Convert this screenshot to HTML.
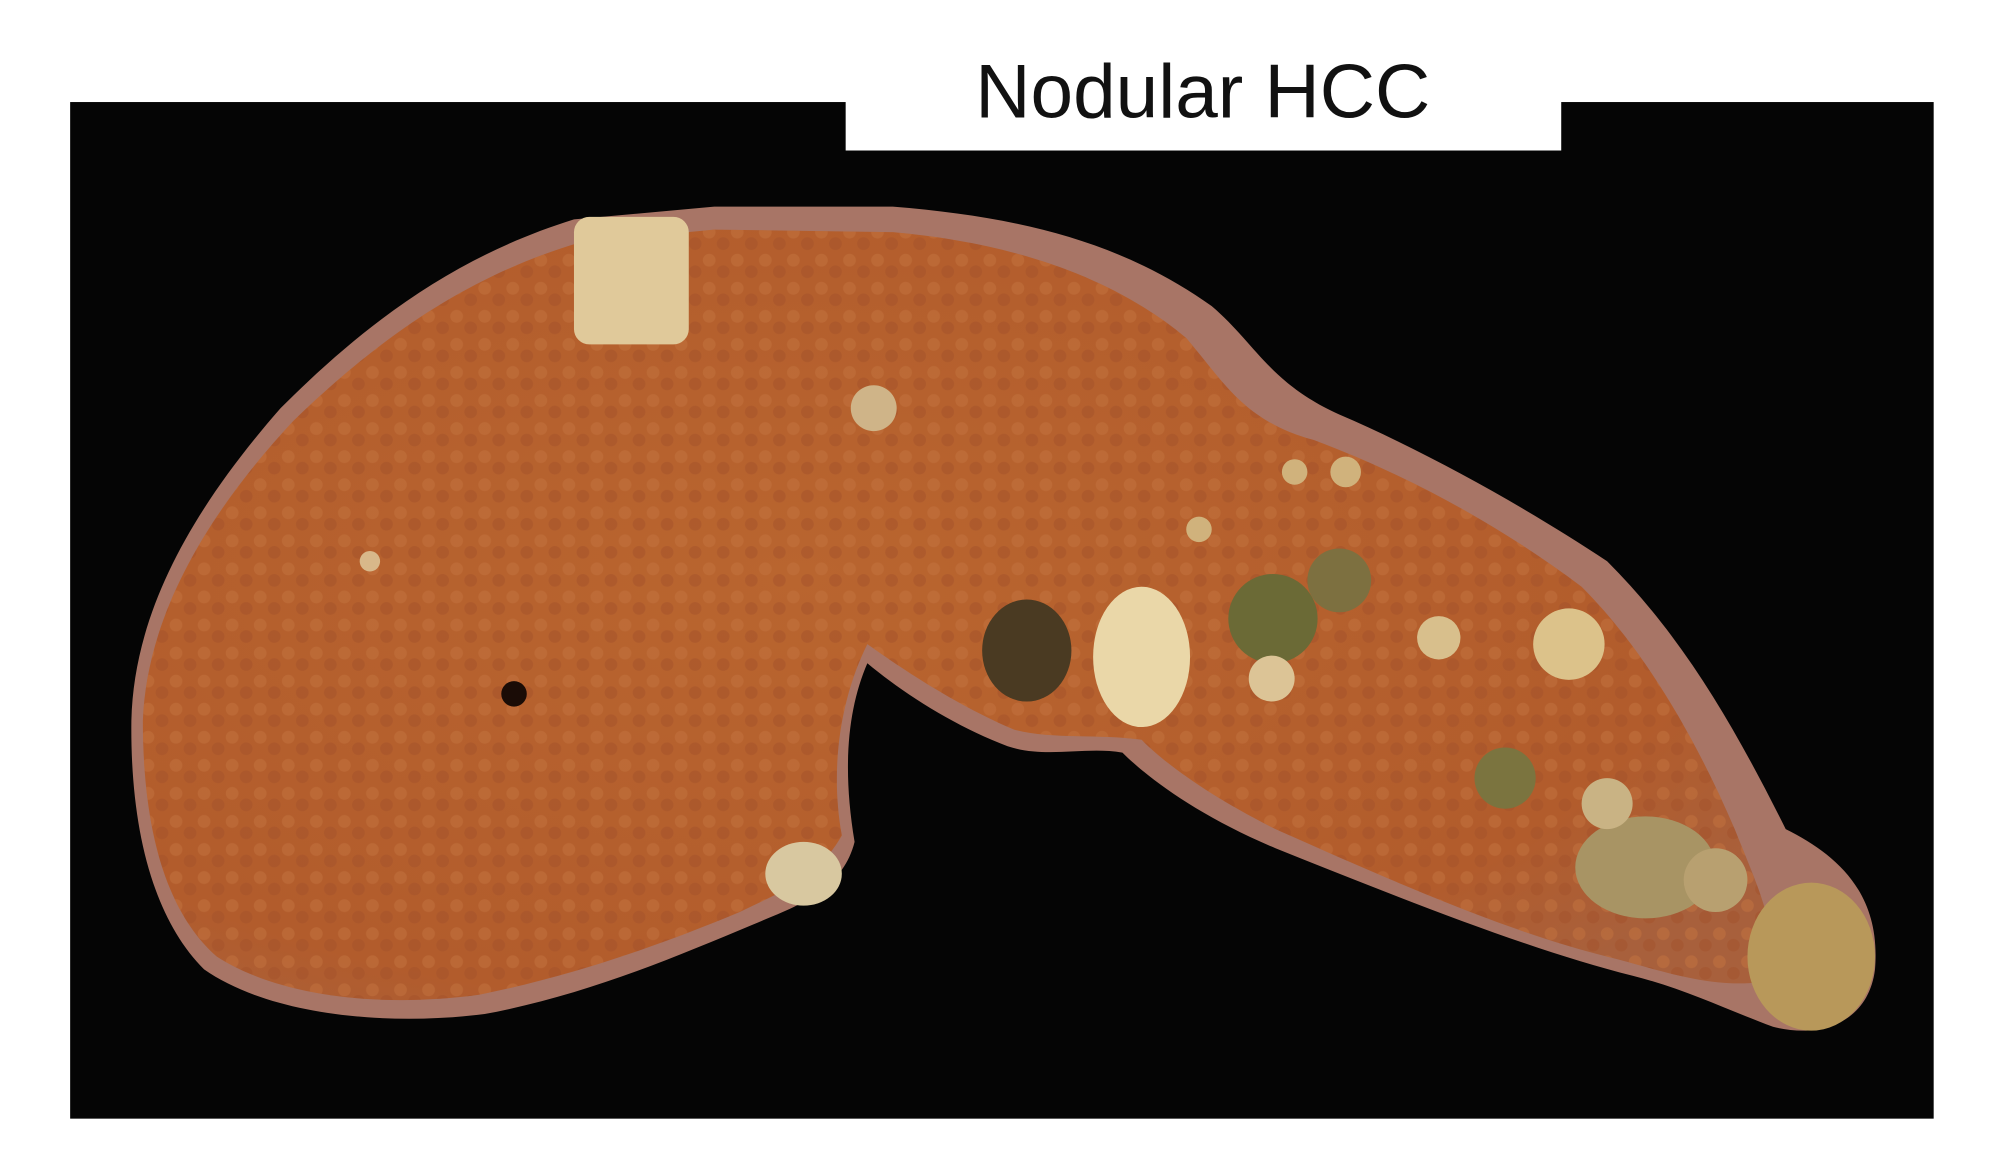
<!DOCTYPE html>
<html><head><meta charset="utf-8"><style>
html,body{margin:0;padding:0;background:#fff;}
svg{display:block}
</style></head><body>
<svg width="2000" height="1155" viewBox="0 0 1568 905.5" preserveAspectRatio="none" xmlns="http://www.w3.org/2000/svg">
<defs>
<radialGradient id="lv" cx="0.4" cy="0.45" r="0.7">
<stop offset="0" stop-color="#b9652f"/><stop offset="0.8" stop-color="#b25c2c"/><stop offset="1" stop-color="#a8603c"/>
</radialGradient>
<pattern id="mot" width="22" height="22" patternUnits="userSpaceOnUse">
<circle cx="6" cy="6" r="5" fill="#c47440" opacity="0.5"/><circle cx="17" cy="15" r="5" fill="#a2502a" opacity="0.45"/>
</pattern>
</defs>
<rect x="0" y="0" width="1568" height="905.5" fill="#fff"/>
<rect x="55" y="80" width="1461" height="797" fill="#050505"/>
<rect x="663" y="0" width="561" height="118" fill="#fff"/>
<text x="943" y="92" text-anchor="middle" font-family="Liberation Sans, sans-serif" font-size="60" fill="#111">Nodular HCC</text>
<g>
<path fill="#a87566" d="M103,565 C105,480 150,400 220,320 C290,250 360,200 450,172 L560,162 L700,162 C800,170 880,190 950,240 C985,270 995,300 1050,325 C1120,355 1200,400 1260,440 C1320,500 1360,570 1400,650 C1440,670 1475,700 1470,760 C1465,800 1430,815 1390,805 C1350,790 1320,775 1280,765 C1200,745 1100,705 1000,665 C940,640 900,610 880,590 C850,585 820,595 790,585 C750,570 710,545 680,520 C665,555 660,600 670,660 C660,700 620,712 590,725 C530,750 460,780 380,795 C300,805 210,795 160,760 C120,720 102,650 103,565 Z"/>
<path fill="url(#lv)" d="M112,565 C115,485 160,405 230,330 C300,262 370,215 455,190 L560,180 L700,182 C790,190 870,215 930,265 C960,300 975,330 1030,345 C1110,375 1180,415 1240,460 C1290,510 1330,580 1360,650 C1380,700 1400,740 1380,770 C1340,775 1300,760 1260,750 C1180,730 1090,690 1000,650 C950,625 915,600 895,580 C860,575 825,580 795,572 C755,555 715,530 680,505 C660,545 650,600 660,655 C640,690 610,700 580,715 C520,740 450,765 375,780 C300,790 220,782 170,750 C130,715 112,650 112,565 Z"/>
<path fill="url(#mot)" d="M112,565 C115,485 160,405 230,330 C300,262 370,215 455,190 L560,180 L700,182 C790,190 870,215 930,265 C960,300 975,330 1030,345 C1110,375 1180,415 1240,460 C1290,510 1330,580 1360,650 C1380,700 1400,740 1380,770 C1340,775 1300,760 1260,750 C1180,730 1090,690 1000,650 C950,625 915,600 895,580 C860,575 825,580 795,572 C755,555 715,530 680,505 C660,545 650,600 660,655 C640,690 610,700 580,715 C520,740 450,765 375,780 C300,790 220,782 170,750 C130,715 112,650 112,565 Z"/>
<rect x="450" y="170" width="90" height="100" rx="12" fill="#e0c99a"/>
<ellipse cx="895" cy="515" rx="38" ry="55" fill="#ead7a8"/>
<ellipse cx="805" cy="510" rx="35" ry="40" fill="#4a3a22"/>
<circle cx="998" cy="485" r="35" fill="#6b6a36"/>
<circle cx="1050" cy="455" r="25" fill="#7d7040"/>
<circle cx="1180" cy="610" r="24" fill="#7b743f"/>
<circle cx="1230" cy="505" r="28" fill="#dcc28a"/>
<circle cx="1128" cy="500" r="17" fill="#d8bf8c"/>
<circle cx="997" cy="532" r="18" fill="#dcc496"/>
<circle cx="685" cy="320" r="18" fill="#cfb488"/>
<ellipse cx="1420" cy="750" rx="50" ry="58" fill="#b8985a"/>
<ellipse cx="1290" cy="680" rx="55" ry="40" fill="#a89464"/>
<circle cx="1260" cy="630" r="20" fill="#c9b384"/>
<circle cx="1345" cy="690" r="25" fill="#b8a070"/>
<circle cx="1055" cy="370" r="12" fill="#d0b27c"/>
<circle cx="1015" cy="370" r="10" fill="#d0b27c"/>
<circle cx="940" cy="415" r="10" fill="#d0b27c"/>
<circle cx="290" cy="440" r="8" fill="#d8b88a"/>
<circle cx="403" cy="544" r="10" fill="#1a0c06"/>
<ellipse cx="630" cy="685" rx="30" ry="25" fill="#d8c8a0"/>
</g>
</svg>
</body></html>
